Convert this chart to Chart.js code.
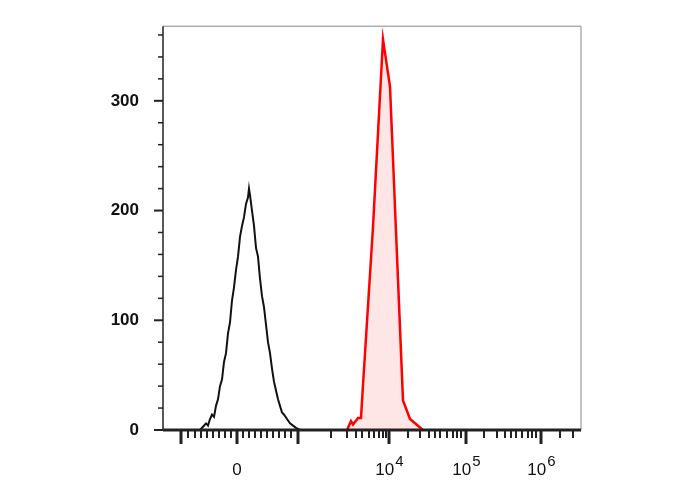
<!DOCTYPE html>
<html>
<head>
<meta charset="utf-8">
<script src="https://cdn.jsdelivr.net/npm/chart.js@4"></script>
<style>
  body { margin: 0; background: #fff; }
  #wrap { width: 688px; height: 490px; }
</style>
</head>
<body>
<div id="wrap"><canvas id="c"></canvas></div>
<script>
// x is in display channels (biexponential axis), y is cell count
const isoX = [37, 40, 43, 45, 47, 49, 51, 53, 55, 57, 59, 61, 63, 65, 67, 69, 71, 73, 75, 77, 79, 81, 83, 85, 86, 87, 89, 91, 93, 95, 97, 99, 101, 103, 105, 107, 109, 111, 113, 115, 117, 119, 121, 124, 127, 130, 133, 137];
const isoY = [0, 3, 6, 4, 10, 14, 12, 22, 28, 40, 46, 62, 70, 88, 98, 118, 130, 146, 158, 176, 186, 194, 206, 212, 220, 214, 200, 186, 166, 158, 138, 122, 112, 96, 80, 70, 56, 44, 36, 28, 22, 16, 14, 10, 6, 4, 2, 0];
const stainX = [184, 188, 190, 195, 198, 200, 210, 220, 227, 240, 247, 260];
const stainY = [0, 8, 5, 11, 11, 41, 185, 356, 313, 27, 10, 0];

const yMajor = [0, 100, 200, 300];
const yMinor = [20, 40, 60, 80, 120, 140, 160, 180, 220, 240, 260, 280, 320, 340, 360];
const xLabelPos = [74, 226, 303, 378];
const xLabelBase = ['0', '10', '10', '10'];
const xLabelExp = ['', '4', '5', '6'];
const xMajor = [18, 74, 135, 226, 303, 378];
const xMinor = [25, 32, 38, 44, 50, 56, 62, 68, 80, 86, 92, 98, 104, 110, 116, 122, 128, 168, 184, 193, 199, 206, 211, 216, 220, 223, 245, 257, 266, 272, 277, 284, 290, 294, 298, 321, 334, 342, 348, 353, 359, 365, 369, 373, 397, 410];

const tickPlugin = {
  id: 'ticks',
  afterDraw(chart) {
    const ctx = chart.ctx, a = chart.chartArea;
    const xs = chart.scales.x, ys = chart.scales.y;
    ctx.save();
    // frame
    ctx.lineWidth = 1;
    ctx.strokeStyle = '#888';
    ctx.beginPath();
    ctx.moveTo(a.left, a.top); ctx.lineTo(a.right, a.top); ctx.lineTo(a.right, a.bottom);
    ctx.stroke();
    ctx.strokeStyle = '#222';
    ctx.lineWidth = 1.5;
    ctx.beginPath(); ctx.moveTo(a.left, a.top); ctx.lineTo(a.left, a.bottom); ctx.stroke();
    ctx.lineWidth = 3;
    ctx.beginPath(); ctx.moveTo(a.left, a.bottom); ctx.lineTo(a.right, a.bottom); ctx.stroke();
    // y ticks
    ctx.lineWidth = 2;
    yMajor.forEach(v => { const p = ys.getPixelForValue(v); ctx.beginPath(); ctx.moveTo(a.left - 9, p); ctx.lineTo(a.left, p); ctx.stroke(); });
    ctx.lineWidth = 1.5;
    yMinor.forEach(v => { const p = ys.getPixelForValue(v); ctx.beginPath(); ctx.moveTo(a.left - 5, p); ctx.lineTo(a.left, p); ctx.stroke(); });
    // x ticks
    ctx.lineWidth = 3;
    xMajor.forEach(v => { const p = xs.getPixelForValue(v); ctx.beginPath(); ctx.moveTo(p, a.bottom); ctx.lineTo(p, a.bottom + 14); ctx.stroke(); });
    ctx.lineWidth = 2;
    xMinor.forEach(v => { const p = xs.getPixelForValue(v); ctx.beginPath(); ctx.moveTo(p, a.bottom); ctx.lineTo(p, a.bottom + 8); ctx.stroke(); });
    // x labels with superscripts
    ctx.fillStyle = '#111';
    ctx.textBaseline = 'alphabetic';
    xLabelPos.forEach((v, i) => {
      const p = xs.getPixelForValue(v);
      ctx.font = '17px "Liberation Sans"';
      const wb = ctx.measureText(xLabelBase[i]).width;
      ctx.font = '15px "Liberation Sans"';
      const we = ctx.measureText(xLabelExp[i]).width;
      const x0 = p - (wb + we) / 2;
      ctx.font = '17px "Liberation Sans"';
      ctx.textAlign = 'left';
      ctx.fillText(xLabelBase[i], x0, 475);
      ctx.font = '15px "Liberation Sans"';
      ctx.fillText(xLabelExp[i], x0 + wb + 1, 466);
    });
    ctx.restore();
  }
};

new Chart(document.getElementById('c'), {
  type: 'line',
  data: {
    datasets: [
      {
        data: isoX.map((x, i) => ({ x: x, y: isoY[i] })),
        borderColor: '#111', borderWidth: 2, pointRadius: 0, tension: 0, fill: false
      },
      {
        data: stainX.map((x, i) => ({ x: x, y: stainY[i] })),
        borderColor: '#ff0000', backgroundColor: 'rgba(255,200,200,0.45)', borderWidth: 2.5,
        pointRadius: 0, tension: 0, fill: 'origin'
      }
    ]
  },
  options: {
    responsive: true,
    maintainAspectRatio: false,
    animation: false,
    layout: { padding: { top: 2, right: 107 } },
    plugins: { legend: { display: false }, tooltip: { enabled: false } },
    scales: {
      x: {
        type: 'linear', min: 0, max: 418,
        afterFit: s => { s.height = 60; },
        ticks: { display: false },
        grid: { display: false },
        border: { display: false }
      },
      y: {
        min: 0, max: 368,
        afterFit: s => { s.width = 163; },
        afterBuildTicks: s => { s.ticks = yMajor.map(v => ({ value: v })); },
        ticks: { padding: 16, font: { family: 'Liberation Sans', size: 17, weight: 'bold' }, color: '#111' },
        grid: { display: false },
        border: { display: false }
      }
    }
  },
  plugins: [tickPlugin]
});
</script>
</body>
</html>
